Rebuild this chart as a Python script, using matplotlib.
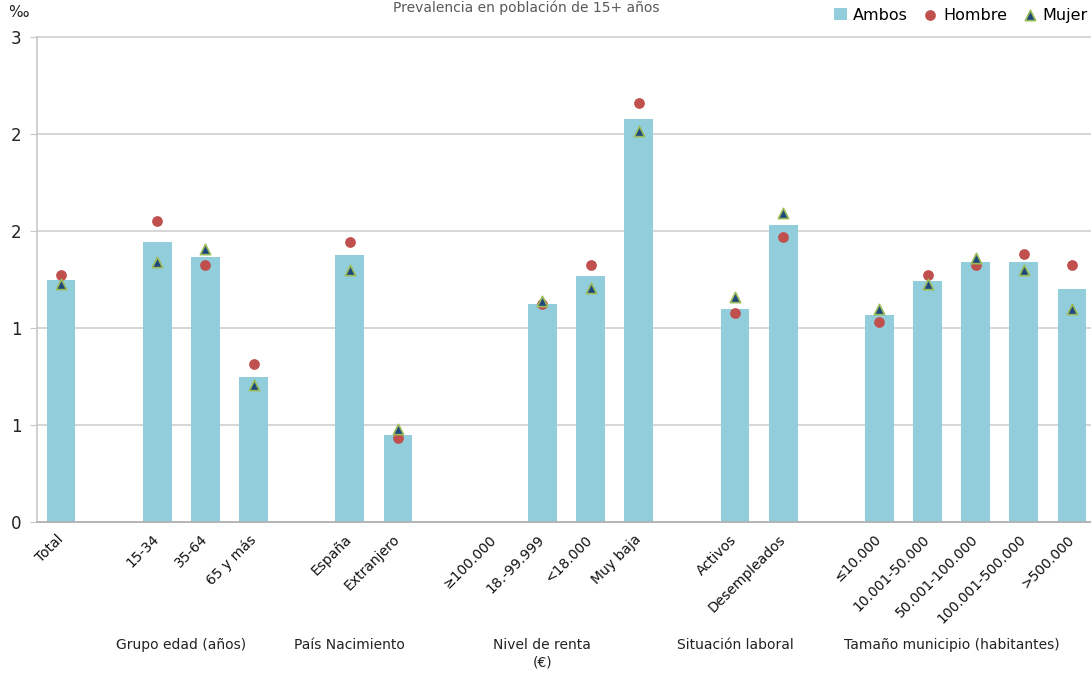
import numpy as np
import matplotlib
matplotlib.use('Agg')
import matplotlib.pyplot as plt

# categories (None = empty slot between groups)
categorias = ['Total', None, '15-34', '35-64', '65 y más', None,
              'España', 'Extranjero', None,
              '≥100.000', '18.-99.999', '<18.000', 'Muy baja', None,
              'Activos', 'Desempleados', None,
              '≤10.000', '10.001-50.000', '50.001-100.000', '100.001-500.000', '>500.000']

ambos = [1.50, None, 1.73, 1.64, 0.90, None,
         1.65, 0.54, None,
         None, 1.35, 1.52, 2.49, None,
         1.32, 1.84, None,
         1.28, 1.49, 1.61, 1.61, 1.44]
hombre = [1.53, None, 1.86, 1.59, 0.98, None,
          1.73, 0.52, None,
          None, 1.35, 1.59, 2.59, None,
          1.29, 1.76, None,
          1.24, 1.53, 1.59, 1.66, 1.59]
mujer = [1.47, None, 1.61, 1.69, 0.85, None,
         1.56, 0.575, None,
         None, 1.37, 1.45, 2.42, None,
         1.39, 1.91, None,
         1.32, 1.47, 1.63, 1.56, 1.32]

grupos = ['Grupo edad (años)', 'País Nacimiento', 'Nivel de renta\n(€)',
          'Situación laboral', 'Tamaño municipio (habitantes)']
grupo_centro = [2.5, 6.0, 10.0, 14.0, 18.5]

plt.rcParams['font.family'] = ['DejaVu Sans']

fig = plt.figure(figsize=(10.91, 6.74), dpi=100)
ax = fig.add_axes([0.0339, 0.2255, 0.9707, 0.7196])

x = np.arange(len(categorias))
a_x = [i for i, v in enumerate(ambos) if v is not None]
a_y = [v for v in ambos if v is not None]
h_x = [i for i, v in enumerate(hombre) if v is not None]
h_y = [v for v in hombre if v is not None]
m_x = [i for i, v in enumerate(mujer) if v is not None]
m_y = [v for v in mujer if v is not None]

b = ax.bar(a_x, a_y, width=0.6, color='#92CDDC', zorder=2, label='Ambos')
h = ax.scatter(h_x, h_y, s=45, marker='o', color='#C0504D', zorder=3, label='Hombre')
m = ax.scatter(m_x, m_y, s=55, marker='^', color='#1F497D', edgecolors='#9BBB59',
               linewidths=1.2, zorder=4, label='Mujer')

ax.set_xlim(-0.5, 21.5)
ax.set_ylim(0, 3)
yt = np.arange(0, 3.01, 0.6)
ax.set_yticks(yt)
ax.set_yticklabels(['0', '1', '1', '2', '2', '3'], fontsize=12, color='#222222')
ax.yaxis.grid(True, color='#D0D0D0', linewidth=1.2, zorder=0, clip_on=False)
ax.set_axisbelow(True)

ax.set_xticks(x)
ax.set_xticklabels([c if c else '' for c in categorias], rotation=45, ha='right',
                   va='center', rotation_mode='anchor', fontsize=10, color='#111111')
ax.tick_params(axis='x', length=0, pad=11)
ax.tick_params(axis='y', length=5, color='#C8C8C8', pad=6)

for s in ['top', 'right']:
    ax.spines[s].set_visible(False)
ax.spines['left'].set_color('#C8C8C8')
ax.spines['bottom'].set_color('#B0B0B0')
ax.spines['left'].set_linewidth(1.2)
ax.spines['bottom'].set_linewidth(1.2)

for g, c in zip(grupos, grupo_centro):
    ax.text(c, -0.72, g, ha='center', va='top', fontsize=10, color='#222222',
            linespacing=1.3)

fig.text(0.017, 0.982, '‰', fontsize=11, ha='center', va='center', color='#222222')
fig.text(0.482, 0.989, 'Prevalencia en población de 15+ años', ha='center',
         va='center', fontsize=10, color='#595959')

fig.legend([b, h, m], ['Ambos', 'Hombre', 'Mujer'], loc='upper right',
           bbox_to_anchor=(1.01, 1.01), ncol=3, frameon=False,
           fontsize=11.5, handlelength=0.8, handletextpad=0.4, columnspacing=1.0)

fig.savefig('out.png', dpi=100)
